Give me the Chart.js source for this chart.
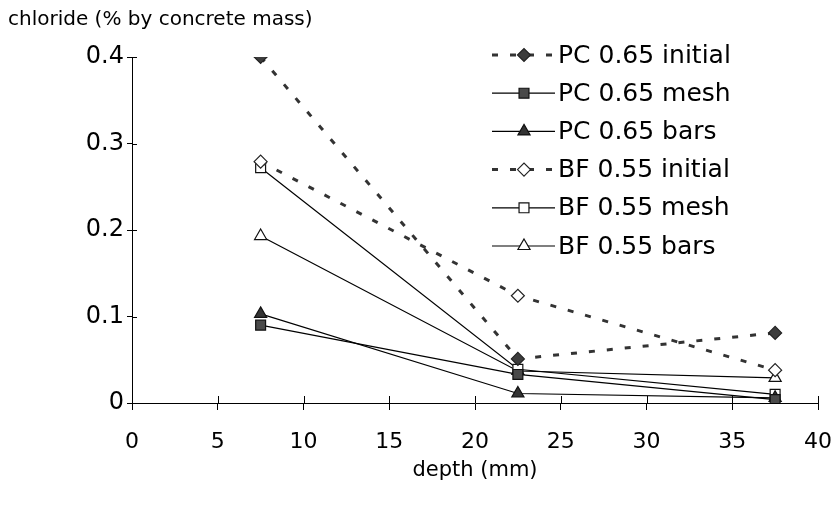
<!DOCTYPE html>
<html>
<head>
<meta charset="utf-8">
<script src="https://cdn.jsdelivr.net/npm/chart.js@4/dist/chart.umd.min.js"></script>
<style>
  html, body { margin: 0; padding: 0; background: #fff; }
  #wrap { width: 838px; height: 512px; }
</style>
</head>
<body>
<div id="wrap"><canvas id="chart" width="838" height="512"></canvas></div>
<script>
const depth = [7.5, 22.5, 37.5];
const seriesNames = ['PC 0.65 initial', 'PC 0.65 mesh', 'PC 0.65 bars', 'BF 0.55 initial', 'BF 0.55 mesh', 'BF 0.55 bars'];
const pcInitial = [0.400, 0.051, 0.081];
const pcMesh    = [0.090, 0.033, 0.004];
const pcBars    = [0.103, 0.011, 0.006];
const bfInitial = [0.279, 0.124, 0.038];
const bfMesh    = [0.272, 0.039, 0.010];
const bfBars    = [0.193, 0.037, 0.029];
const xTicks = [0, 5, 10, 15, 20, 25, 30, 35, 40];
const yTicks = [0, 0.1, 0.2, 0.3, 0.4];

const FONT = "'DejaVu Sans', sans-serif";
const toPts = vals => vals.map((v, i) => ({x: depth[i], y: v}));

const dashed = (label, vals, fill) => ({
  label, data: toPts(vals), showLine: true,
  borderColor: '#333', borderWidth: 3, borderDash: [6, 12],
  pointStyle: 'rectRot', pointRadius: 6.5, pointBackgroundColor: fill,
  pointBorderColor: '#222', pointBorderWidth: 1.2
});
const solid = (label, vals, style, fill, r) => ({
  label, data: toPts(vals), showLine: true,
  borderColor: '#000', borderWidth: 1.2,
  pointStyle: style, pointRadius: r, pointBackgroundColor: fill,
  pointBorderColor: '#111', pointBorderWidth: 1.2
});

const datasets = [
  dashed(seriesNames[0], pcInitial, '#3c3c3c'),
  solid(seriesNames[1], pcMesh, 'rect', '#4a4a4a', 7),
  solid(seriesNames[2], pcBars, 'triangle', '#333', 7),
  dashed(seriesNames[3], bfInitial, '#fff'),
  solid(seriesNames[4], bfMesh, 'rect', '#fff', 7),
  solid(seriesNames[5], bfBars, 'triangle', '#fff', 7)
];

// ticks that cross the axis lines, y title and the line+marker legend
const extras = {
  id: 'extras',
  afterDraw(chart) {
    const ctx = chart.ctx;
    const xs = chart.scales.x, ys = chart.scales.y;
    const x0 = xs.getPixelForValue(0), y0 = ys.getPixelForValue(0);
    ctx.save();
    ctx.strokeStyle = '#000';
    ctx.lineWidth = 1;
    ctx.beginPath();
    xTicks.forEach(t => {
      const px = Math.round(xs.getPixelForValue(t)) + 0.5;
      ctx.moveTo(px, y0 - 7); ctx.lineTo(px, y0);
    });
    yTicks.forEach(t => {
      const py = Math.round(ys.getPixelForValue(t)) + 0.5;
      ctx.moveTo(x0, py); ctx.lineTo(x0 + 5, py);
    });
    ctx.stroke();

    ctx.fillStyle = '#000';
    ctx.font = "20px " + FONT;
    ctx.textBaseline = 'middle';
    ctx.textAlign = 'left';
    ctx.fillText('chloride (% by concrete mass)', 8, 20);

    ctx.font = "25px " + FONT;
    chart.data.datasets.forEach((ds, i) => {
      const y = 55 + i * 38.2;
      ctx.save();
      ctx.strokeStyle = ds.borderColor;
      ctx.lineWidth = ds.borderWidth;
      ctx.setLineDash(ds.borderDash || []);
      ctx.beginPath();
      ctx.moveTo(492, y); ctx.lineTo(555, y);
      ctx.stroke();
      ctx.restore();
      ctx.fillStyle = ds.pointBackgroundColor;
      ctx.strokeStyle = ds.pointBorderColor;
      ctx.lineWidth = ds.pointBorderWidth;
      Chart.helpers.drawPoint(ctx, {pointStyle: ds.pointStyle, radius: ds.pointRadius, rotation: 0, borderWidth: ds.pointBorderWidth}, 524, y);
      ctx.fillStyle = '#000';
      ctx.fillText(ds.label, 558, y + 1);
    });
    ctx.restore();
  }
};

new Chart(document.getElementById('chart'), {
  type: 'scatter',
  data: { datasets },
  options: {
    responsive: false,
    animation: false,
    devicePixelRatio: 1,
    layout: { padding: { top: 57, right: 20, left: 0, bottom: 0 } },
    plugins: { legend: { display: false }, tooltip: { enabled: false } },
    scales: {
      x: {
        type: 'linear', min: 0, max: 40,
        afterFit: s => { s.height = 109; s.paddingLeft = 0; s.paddingRight = 0; },
        afterBuildTicks: s => { s.ticks = xTicks.map(v => ({value: v})); },
        ticks: { color: '#000', font: { family: FONT, size: 22 }, padding: 19, maxRotation: 0 },
        grid: { drawOnChartArea: false, color: '#000', tickLength: 7 },
        border: { color: '#000', width: 1 },
        title: { display: true, text: 'depth (mm)', color: '#000', font: { family: FONT, size: 21 }, padding: { top: 0, bottom: 29 } }
      },
      y: {
        type: 'linear', min: 0, max: 0.4,
        afterFit: s => { s.width = 132; s.paddingTop = 0; s.paddingBottom = 0; },
        afterBuildTicks: s => { s.ticks = yTicks.map(v => ({value: v})); },
        ticks: { color: '#000', font: { family: FONT, size: 24 }, padding: 3,
                 callback: v => v === 0 ? '0' : v.toFixed(1) },
        grid: { drawOnChartArea: false, color: '#000', tickLength: 5 },
        border: { color: '#000', width: 1 }
      }
    }
  },
  plugins: [extras]
});
</script>
</body>
</html>
